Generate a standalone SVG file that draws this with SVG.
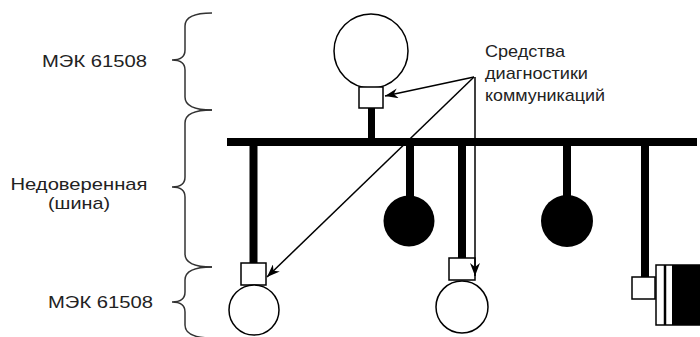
<svg xmlns="http://www.w3.org/2000/svg" width="700" height="337" viewBox="0 0 700 337">
<defs>
<style>
.lbl{font-family:"Liberation Sans",Arial,sans-serif;font-size:17px;fill:#222}
.brace{fill:none;stroke:#333;stroke-width:1.5}
.box{fill:#fff;stroke:#000;stroke-width:1.5}
.ring{fill:#fff;stroke:#000;stroke-width:1.5}
.dot{fill:#000}
.stem{fill:#000}
.arr{fill:none;stroke:#000;stroke-width:1.5;marker-end:url(#ah)}
</style>
<marker id="ah" markerUnits="userSpaceOnUse" markerWidth="14" markerHeight="10" refX="13" refY="5" orient="auto">
<path d="M0,0 L13,5 L0,10 L4,5 z" fill="#000"/>
</marker>
</defs>
<rect width="700" height="337" fill="#fff"/>
<g id="labels">
<text class="lbl" x="94.5" y="67" text-anchor="middle" textLength="105" lengthAdjust="spacingAndGlyphs">МЭК 61508</text>
<text class="lbl" x="79" y="190" text-anchor="middle" textLength="137" lengthAdjust="spacingAndGlyphs">Недоверенная</text>
<text class="lbl" x="79" y="209" text-anchor="middle" textLength="62" lengthAdjust="spacingAndGlyphs">(шина)</text>
<text class="lbl" x="100.5" y="308" text-anchor="middle" textLength="105" lengthAdjust="spacingAndGlyphs">МЭК 61508</text>
<text class="lbl" x="485" y="57" textLength="80" lengthAdjust="spacingAndGlyphs">Средства</text>
<text class="lbl" x="485" y="79" textLength="103" lengthAdjust="spacingAndGlyphs">диагностики</text>
<text class="lbl" x="485" y="101" textLength="120" lengthAdjust="spacingAndGlyphs">коммуникаций</text>
</g>
<g id="braces">
<path class="brace" d="M212,13 Q185,13 185,26 L185,50 Q185,60 172,60 Q185,60 185,70 L185,97 Q185,110 212,110"/>
<path class="brace" d="M212,110 Q185,110 185,123 L185,177 Q185,187 172,187 Q185,187 185,197 L185,254 Q185,267 212,267"/>
<path class="brace" d="M212,267 Q185,267 185,280 L185,292 Q185,302 172,302 Q185,302 185,312 L185,325 Q185,338 212,338"/>
</g>
<g id="bus">
<rect class="stem" x="227" y="138" width="470" height="8"/>
</g>
<g id="node-top">
<rect class="stem" x="368" y="107" width="7" height="32"/>
<circle class="ring" cx="371" cy="51" r="37"/>
<rect class="box" x="359" y="87" width="24" height="21"/>
</g>
<g id="node-bottom-left">
<rect class="stem" x="249.5" y="145" width="8" height="119"/>
<rect class="box" x="241" y="263" width="25" height="22"/>
<circle class="ring" cx="254" cy="310" r="25"/>
</g>
<g id="node-black-1">
<rect class="stem" x="406" y="145" width="8" height="55"/>
<circle class="dot" cx="409" cy="221" r="25.5"/>
</g>
<g id="node-bottom-mid">
<rect class="stem" x="458" y="145" width="8" height="114"/>
<rect class="box" x="449" y="258" width="26" height="22"/>
<circle class="ring" cx="462" cy="307" r="26"/>
</g>
<g id="node-black-2">
<rect class="stem" x="563" y="145" width="8" height="55"/>
<circle class="dot" cx="567" cy="221" r="26"/>
</g>
<g id="node-right">
<rect class="stem" x="641" y="145" width="8" height="133"/>
<rect class="box" x="632" y="277" width="23" height="22"/>
<rect x="656" y="265" width="50" height="60" fill="#fff" stroke="#000" stroke-width="1.5"/>
<line x1="665" y1="265" x2="665" y2="325" stroke="#000" stroke-width="2.5"/>
<rect x="672" y="265" width="30" height="60" fill="#000"/>
</g>
<g id="connectors">
<path class="arr" d="M474,77 L385,96"/>
<path class="arr" d="M474,77 L267,277"/>
<path class="arr" d="M475,77 L475,276"/>
</g>
</svg>
